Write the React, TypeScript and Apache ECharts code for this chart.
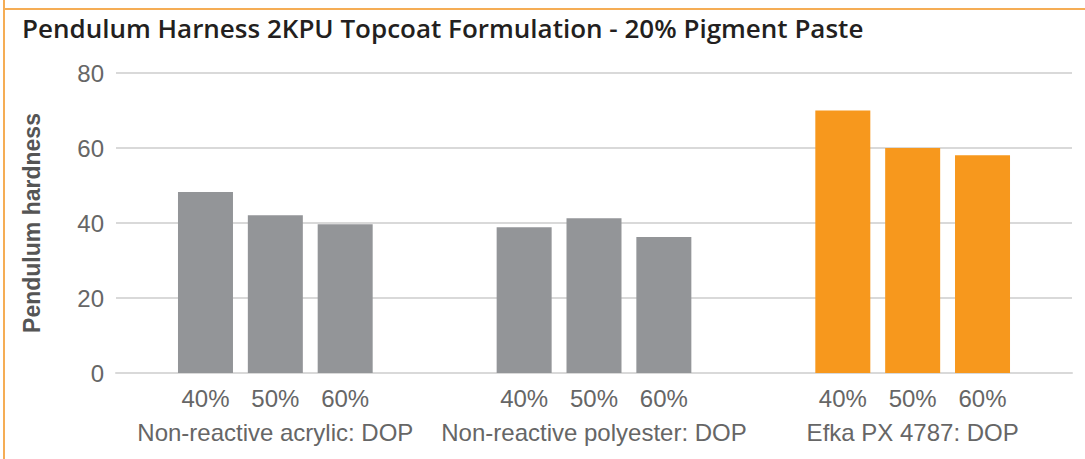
import React, { useEffect, useRef } from "react";
import * as echarts from "echarts";

const title = "Pendulum Harness 2KPU Topcoat Formulation - 20% Pigment Paste";
const yAxisName = "Pendulum hardness";
const categories = ["Non-reactive acrylic: DOP", "Non-reactive polyester: DOP", "Efka PX 4787: DOP"];
const seriesNames = ["40%", "50%", "60%"];
const values40 = [48.3, 38.9, 70];
const values50 = [42.1, 41.3, 60];
const values60 = [39.7, 36.3, 58.1];
const groupColors = ["#939598", "#939598", "#f7981d"];
const yTicks = { min: 0, max: 80, interval: 20 };

export default function App() {
  const ref = useRef<HTMLDivElement>(null);
  useEffect(() => {
    document.body.style.margin = "0";
    const chart = echarts.init(ref.current!, null, { renderer: "svg" });
    const font = "'Liberation Sans', Arial, Helvetica, sans-serif";
    const allValues = [values40, values50, values60];
    chart.setOption({
      animation: false,
      textStyle: { fontFamily: font },
      title: {
        text: title,
        left: 17,
        top: 10,
        textStyle: { fontFamily: "'Open Sans', 'Liberation Sans', sans-serif", fontSize: 26, fontWeight: 600, color: "#231f20" },
      },
      graphic: [
        { type: "line", shape: { x1: 4, y1: 0, x2: 4, y2: 459 }, style: { stroke: "#f5ad55", lineWidth: 2 } },
        { type: "line", shape: { x1: 3, y1: 9, x2: 1085, y2: 9 }, style: { stroke: "#f5ad55", lineWidth: 2 } },
      ],
      grid: { left: 116, right: 13, top: 73, bottom: 86, containLabel: false },
      xAxis: {
        type: "category",
        data: categories,
        axisLine: { show: true, lineStyle: { color: "#d9d9d9", width: 2 } },
        axisTick: { show: false },
        axisLabel: { margin: 47, fontSize: 24, color: "#666666", fontFamily: font, interval: 0 },
      },
      yAxis: {
        type: "value",
        min: yTicks.min,
        max: yTicks.max,
        interval: yTicks.interval,
        name: yAxisName,
        nameLocation: "middle",
        nameGap: 73,
        nameRotate: 90,
        nameTextStyle: { fontSize: 23, fontWeight: "bold", color: "#555555", fontFamily: font },
        axisLine: { show: false },
        axisTick: { show: false },
        splitLine: { lineStyle: { color: "#d9d9d9", width: 2 } },
        axisLabel: { margin: 12, fontSize: 24, color: "#666666", fontFamily: font },
      },
      series: seriesNames.map((name, si) => ({
        name,
        type: "bar",
        barWidth: 55,
        barGap: "27%",
        data: allValues[si].map((v, i) => ({ value: v, itemStyle: { color: groupColors[i] } })),
        label: {
          show: true,
          position: "bottom",
          distance: 13,
          formatter: name,
          fontSize: 24,
          color: "#666666",
          fontFamily: font,
        },
      })),
    });
    return () => chart.dispose();
  }, []);
  return <div ref={ref} style={{ width: 1085, height: 459, position: "absolute", left: 0, top: 0 }} />;
}
